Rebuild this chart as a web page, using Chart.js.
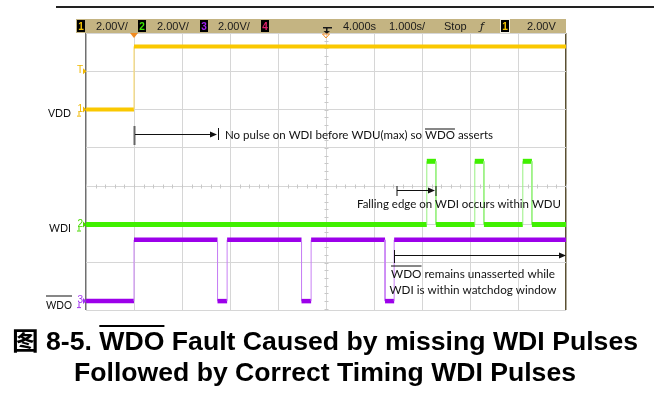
<!DOCTYPE html>
<html>
<head>
<meta charset="utf-8">
<script src="https://cdn.jsdelivr.net/npm/chart.js"></script>
<style>
  body { margin: 0; background: #fff; }
  canvas { display: block; }
</style>
</head>
<body>
<canvas id="scope" width="656" height="408"></canvas>
<script>
// time in seconds (1 s/div, delay 4.000 s), levels in volts (2 V/div)
const vddTime = [-1, 0, 0, 9];
const vddVolts = [0, 0, 3.3, 3.3];

const wdiTime = [-1, 6.1, 6.1, 6.29, 6.29, 7.1, 7.1, 7.29, 7.29, 8.1, 8.1, 8.29, 8.29, 9];
const wdiVolts = [0, 0, 3.3, 3.3, 0, 0, 3.3, 3.3, 0, 0, 3.3, 3.3, 0, 0];

const wdoTime = [-1, 0, 0, 1.74, 1.74, 1.94, 1.94, 3.49, 3.49, 3.69, 3.69, 5.23, 5.23, 5.42, 5.42, 9];
const wdoVolts = [0, 0, 3.2, 3.2, 0, 0, 3.2, 3.2, 0, 0, 3.2, 3.2, 0, 0, 3.2, 3.2];

// ground marker of each channel, in divisions from screen centre
const chOffset = { vdd: 2, wdi: -1, wdo: -3 };
const voltsPerDiv = 2;

const headerTexts = ['2.00V/', '2.00V/', '2.00V/', '4.000s', '1.000s/', 'Stop', '2.00V'];
const titleLines = ['图 8-5. WDO Fault Caused by missing WDI Pulses', 'Followed by Correct Timing WDI Pulses'];

function trace(times, volts, offset) {
    return times.map((t, i) => ({ x: t, y: offset + volts[i] / voltsPerDiv }));
}

function traceSet(data, color, edge, width) {
    return {
        data: data,
        borderColor: color,
        borderWidth: width,
        pointRadius: 0,
        tension: 0,
        segment: {
            borderWidth: c => c.p0.parsed.x === c.p1.parsed.x ? 1 : width,
            borderColor: c => c.p0.parsed.x === c.p1.parsed.x ? edge : color
        }
    };
}

// draw text squeezed/stretched to a given width
function fitText(ctx, text, x, y, w, font) {
    ctx.save();
    ctx.font = font;
    const k = w / ctx.measureText(text).width;
    ctx.translate(x, y);
    ctx.scale(k, 1);
    ctx.fillText(text, 0, 0);
    ctx.restore();
    return k;
}

function overline(ctx, text, word, x, y, w, font, oy, lw) {
    ctx.save();
    ctx.font = font;
    const k = w / ctx.measureText(text).width;
    const i = text.indexOf(word);
    const x0 = x + ctx.measureText(text.slice(0, i)).width * k;
    const x1 = x0 + ctx.measureText(word).width * k;
    ctx.fillRect(x0, oy, x1 - x0, lw);
    ctx.restore();
}

function arrow(ctx, x0, x1, y) {
    ctx.beginPath();
    ctx.moveTo(x0, y);
    ctx.lineTo(x1 - 5, y);
    ctx.stroke();
    ctx.beginPath();
    ctx.moveTo(x1, y);
    ctx.lineTo(x1 - 7, y - 3);
    ctx.lineTo(x1 - 7, y + 3);
    ctx.closePath();
    ctx.fill();
}

function chBox(ctx, x, digit, color, outline) {
    ctx.fillStyle = '#000';
    ctx.fillRect(x, 20, 8, 12);
    if (outline) {
        ctx.strokeStyle = '#f4f0e0';
        ctx.lineWidth = 1;
        ctx.strokeRect(x - 0.5, 19.5, 9, 13);
    }
    ctx.fillStyle = color;
    ctx.font = 'bold 10px "Liberation Sans"';
    ctx.textAlign = 'center';
    ctx.fillText(digit, x + 4, 30);
    ctx.textAlign = 'left';
}

function marker(ctx, label, y, color, ground) {
    ctx.fillStyle = color;
    ctx.font = '10px "Liberation Sans"';
    ctx.textAlign = 'right';
    ctx.fillText(label, 83, y + 2);
    ctx.textAlign = 'left';
    ctx.beginPath();
    ctx.moveTo(83, y - 3);
    ctx.lineTo(86.5, y);
    ctx.lineTo(83, y + 3);
    ctx.closePath();
    ctx.fill();
    if (ground) {
        // small ground arrow under the digit
        ctx.fillRect(78.5, y + 2, 1, 4);
        ctx.fillRect(77, y + 6, 4, 1);
    }
}

const scopeDecor = {
    id: 'scopeDecor',
    beforeDatasetsDraw(chart) {
        const ctx = chart.ctx;
        const xs = chart.scales.x, ys = chart.scales.y;
        const cx = Math.round(xs.getPixelForValue(4)) + 0.5;
        const cy = Math.round(ys.getPixelForValue(0)) + 0.5;
        ctx.save();
        ctx.strokeStyle = '#c8c8c8';
        ctx.lineWidth = 1;
        ctx.beginPath();
        for (let t = -1; t <= 9; t += 0.2) {
            const px = Math.round(xs.getPixelForValue(t)) + 0.5;
            ctx.moveTo(px, cy - 2);
            ctx.lineTo(px, cy + 2);
        }
        for (let d = -3.2; d <= 4; d += 0.2) {
            const py = Math.round(ys.getPixelForValue(d)) + 0.5;
            ctx.moveTo(cx - 2, py);
            ctx.lineTo(cx + 2, py);
        }
        ctx.stroke();
        ctx.restore();
    },
    afterDraw(chart) {
        const ctx = chart.ctx;
        const xs = chart.scales.x, ys = chart.scales.y;
        ctx.save();

        // top rule
        ctx.fillStyle = '#222';
        ctx.fillRect(56, 6, 598, 2);

        // header bar
        ctx.fillStyle = '#c4b482';
        ctx.fillRect(76, 19, 490, 14);
        chBox(ctx, 77, '1', '#f5c400', false);
        chBox(ctx, 138, '2', '#3ee800', false);
        chBox(ctx, 200, '3', '#a020f0', false);
        chBox(ctx, 261, '4', '#e0206a', false);
        chBox(ctx, 501, '1', '#f5c400', true);
        ctx.fillStyle = '#1a1a1a';
        ctx.font = '11px "Liberation Sans"';
        const hx = [96, 157, 218, 343, 389, 444, 527];
        headerTexts.forEach((s, i) => ctx.fillText(s, hx[i], 30));
        // trigger slope symbol
        ctx.font = 'italic 11px "DejaVu Sans"';
        ctx.fillText('ƒ', 480, 30);
        // delay reference icon
        ctx.fillRect(323, 27, 9, 1.5);
        ctx.fillRect(326, 27, 1.5, 5);
        ctx.beginPath();
        ctx.moveTo(323.5, 31);
        ctx.lineTo(330, 31);
        ctx.lineTo(326.8, 34);
        ctx.closePath();
        ctx.fill();

        // trigger position markers
        const tx = xs.getPixelForValue(0);
        ctx.fillStyle = '#f08a20';
        ctx.beginPath();
        ctx.moveTo(tx - 4, 33);
        ctx.lineTo(tx + 4, 33);
        ctx.lineTo(tx, 38);
        ctx.closePath();
        ctx.fill();
        const dx = xs.getPixelForValue(4);
        ctx.strokeStyle = '#f08a20';
        ctx.lineWidth = 1;
        ctx.beginPath();
        ctx.moveTo(dx - 3.5, 34);
        ctx.lineTo(dx + 3.5, 34);
        ctx.lineTo(dx, 38);
        ctx.closePath();
        ctx.stroke();

        // channel ground / trigger level markers
        marker(ctx, 'T', ys.getPixelForValue(3), '#f0b800', false);
        marker(ctx, '1', ys.getPixelForValue(chOffset.vdd), '#f0b800', true);
        marker(ctx, '2', ys.getPixelForValue(chOffset.wdi), '#48d800', true);
        marker(ctx, '3', ys.getPixelForValue(chOffset.wdo), '#a030f0', true);

        // signal names
        const lf = '11.5px Lato';
        ctx.fillStyle = '#111';
        fitText(ctx, 'VDD', 48, 116.5, 23, lf);
        fitText(ctx, 'WDI', 49, 232, 22, lf);
        fitText(ctx, 'WDO', 46, 309, 26, lf);
        ctx.fillRect(46, 295.5, 26, 1);

        // annotations
        const af = '11.5px Lato';
        ctx.strokeStyle = '#111';
        ctx.lineWidth = 1;
        ctx.fillStyle = '#666';
        ctx.fillRect(133.5, 126, 2, 19);
        ctx.fillStyle = '#111';
        arrow(ctx, 135, 217, 134.5);
        ctx.fillRect(218, 128, 1, 12);
        const t1 = 'No pulse on WDI before WDU(max) so WDO asserts';
        fitText(ctx, t1, 225, 138.5, 268, af);
        overline(ctx, t1, 'WDO', 225, 138.5, 268, af, 128.5, 1);

        ctx.fillRect(396.5, 186, 1, 10);
        arrow(ctx, 397, 435, 190.5);
        ctx.fillRect(435.5, 186, 1, 10);
        fitText(ctx, 'Falling edge on WDI occurs within WDU', 357, 207.5, 204, af);

        ctx.fillRect(394, 250, 1, 13);
        arrow(ctx, 395, 566, 255.5);
        const t3 = 'WDO remains unasserted while';
        fitText(ctx, t3, 391, 277.5, 164, af);
        overline(ctx, t3, 'WDO', 391, 277.5, 164, af, 265.5, 1);
        fitText(ctx, 'WDI is within watchdog window', 389.5, 293.5, 167, af);

        // caption
        const tf = 'bold 25px "Liberation Sans", "Noto Sans CJK SC"';
        ctx.fillStyle = '#000';
        fitText(ctx, titleLines[0], 12, 350, 626, tf);
        overline(ctx, titleLines[0], 'WDO', 12, 350, 626, tf, 325, 2);
        fitText(ctx, titleLines[1], 74, 381, 502, tf);

        ctx.restore();
    }
};

document.addEventListener('DOMContentLoaded', function() {
    const ctx = document.getElementById('scope').getContext('2d');
    new Chart(ctx, {
        type: 'line',
        data: {
            datasets: [
                traceSet(trace(vddTime, vddVolts, chOffset.vdd), '#fac800', '#fcd860', 4),
                traceSet(trace(wdiTime, wdiVolts, chOffset.wdi), '#40f000', '#98f080', 5),
                traceSet(trace(wdoTime, wdoVolts, chOffset.wdo), '#9c00ea', '#c880f4', 4.5)
            ]
        },
        options: {
            responsive: false,
            animation: false,
            layout: { padding: { left: 86, right: 90, top: 33, bottom: 98 } },
            plugins: { legend: { display: false }, tooltip: { enabled: false } },
            scales: {
                x: {
                    type: 'linear',
                    min: -1,
                    max: 9,
                    ticks: { display: false, stepSize: 1 },
                    border: { display: false },
                    grid: {
                        drawTicks: false,
                        tickLength: 0,
                        color: c => c.tick.value === -1 ? '#707070' : (c.tick.value === 9 ? '#5a5032' : '#d6d6d6'),
                        lineWidth: c => (c.tick.value === -1 || c.tick.value === 9) ? 1.5 : 1
                    },
                    afterFit: s => { s.height = 0; }
                },
                y: {
                    type: 'linear',
                    min: -3.232,
                    max: 4,
                    ticks: { display: false, stepSize: 1 },
                    border: { display: false },
                    grid: { drawTicks: false, tickLength: 0, color: '#d6d6d6' },
                    afterFit: s => { s.width = 0; }
                }
            }
        },
        plugins: [scopeDecor]
    });
});
</script>
</body>
</html>
